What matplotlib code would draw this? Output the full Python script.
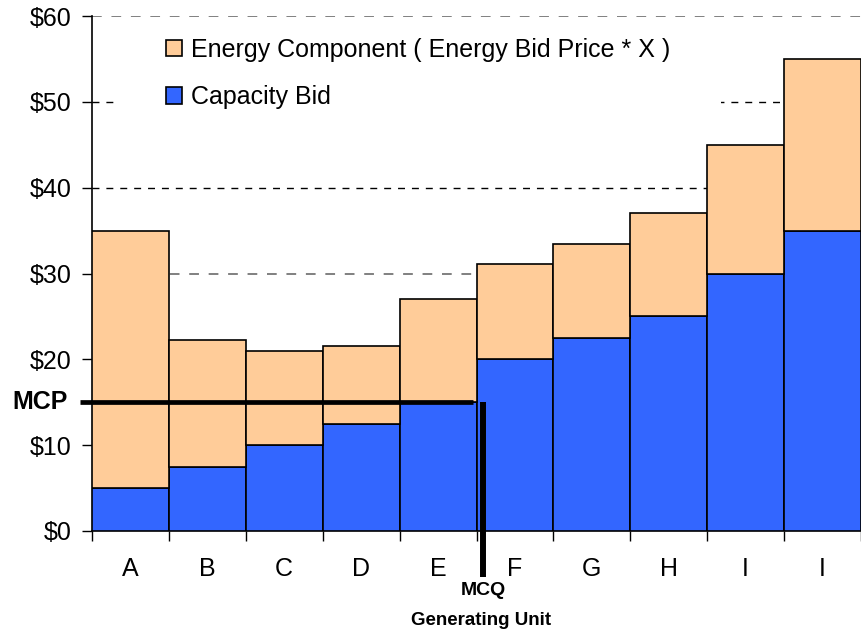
import matplotlib
matplotlib.use("Agg")
import matplotlib.pyplot as plt
from matplotlib.patches import Rectangle
import numpy as np

plt.rcParams["font.family"] = ["Liberation Sans", "DejaVu Sans"]

units = ["A", "B", "C", "D", "E", "F", "G", "H", "I", "I"]
capacity_bid = [5, 7.5, 10, 12.5, 15, 20, 22.5, 25, 30, 35]
total_bid = [35, 22.3, 21, 21.5, 27, 31.1, 33.4, 37, 45, 55]
energy_component = [t - c for t, c in zip(total_bid, capacity_bid)]

y_ticks = [0, 10, 20, 30, 40, 50, 60]
y_labels = ["$0", "$10", "$20", "$30", "$40", "$50", "$60"]

mcp = 15        # market clearing price
mcq = 5.08      # market clearing quantity (in unit widths)

ORANGE = "#FFCC99"
BLUE = "#3366FF"

fig = plt.figure(figsize=(8.61, 6.35), dpi=100)
ax = fig.add_axes([92 / 861, 104 / 635, 769 / 861, 515 / 635])

x = np.arange(len(units))
ax.bar(x, capacity_bid, width=1.0, align="edge", color=BLUE,
       edgecolor="black", linewidth=1.2, zorder=3, label="Capacity Bid")
ax.bar(x, energy_component, width=1.0, align="edge", bottom=capacity_bid,
       color=ORANGE, edgecolor="black", linewidth=1.2, zorder=3,
       label="Energy Component ( Energy Bid Price * X )")

ax.set_xlim(0, len(units))
ax.set_ylim(0, 60)
ax.set_yticks(y_ticks)
ax.set_yticklabels(y_labels)

ax.set_xticks(x + 0.5)
ax.set_xticklabels(units)
ax.set_xticks(np.arange(len(units) + 1), minor=True)
ax.tick_params(axis="x", which="major", length=0, pad=19, labelsize=18)
ax.tick_params(axis="x", which="minor", length=7, width=1, direction="out")
ax.tick_params(axis="y", length=7, width=1, pad=8, labelsize=18)

ax.spines["top"].set_visible(False)
ax.spines["right"].set_visible(False)
ax.spines["left"].set_linewidth(1.2)
ax.spines["bottom"].set_linewidth(1.2)

ax.grid(axis="y", which="major", color="black", linestyle=(0, (5, 5)),
        linewidth=1.0, zorder=0)
ax.set_axisbelow(True)
for val, gl in zip(y_ticks, ax.get_ygridlines()):
    if val in (30, 60):
        gl.set_color("#808080")
        gl.set_linewidth(1.4)

# white panel behind the legend hides the gridlines there
ax.add_patch(Rectangle((0.0325, 0.80), 0.786, 0.188, transform=ax.transAxes,
                       facecolor="white", edgecolor="none", zorder=1))

handles, labels = ax.get_legend_handles_labels()
leg = ax.legend(handles[::-1], labels[::-1], loc="upper left",
                bbox_to_anchor=(0.0965, 0.958), frameon=False, fontsize=18,
                handlelength=0.65, handleheight=0.65, handletextpad=0.35,
                labelspacing=0.95, borderaxespad=0, borderpad=0)
leg.set_zorder(2)
for h in leg.legend_handles:
    h.set_linewidth(1.2)

# market clearing price / quantity markers
ax.plot([-0.16, mcq - 0.13], [mcp, mcp], color="black", linewidth=3.4,
        solid_capstyle="butt", clip_on=False, zorder=5)
ax.plot([mcq, mcq], [mcp, -5.4], color="black", linewidth=4.3,
        solid_capstyle="butt", clip_on=False, zorder=5)
ax.text(-0.31, mcp, "MCP", ha="right", va="center", fontsize=18,
        fontweight="bold")
ax.text(mcq + 0.01, -6.9, "MCQ", ha="center", va="center", fontsize=14,
        fontweight="bold", clip_on=False)
ax.text(5.06, -10.4, "Generating Unit", ha="center", va="center",
        fontsize=13.5, fontweight="bold", clip_on=False)

fig.savefig("out.png", dpi=100)
